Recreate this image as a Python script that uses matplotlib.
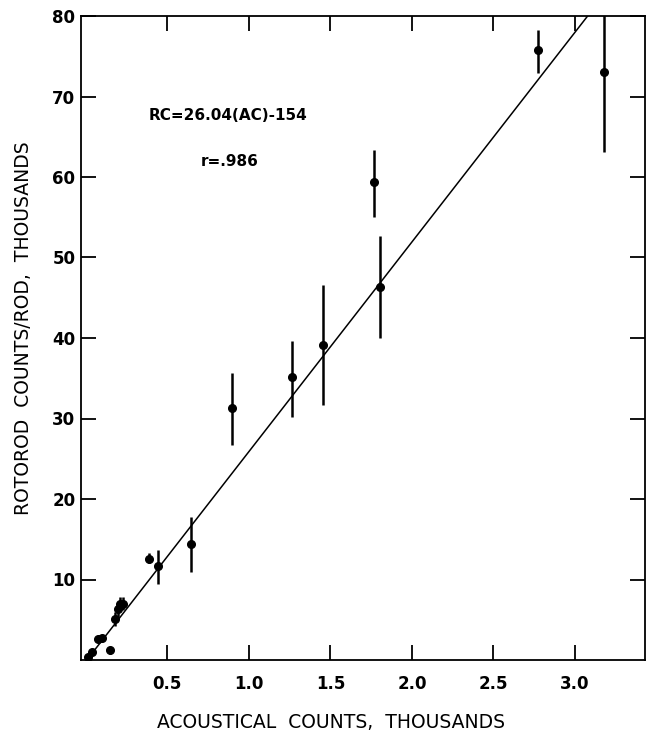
import numpy as np
import matplotlib
matplotlib.use('Agg')
import matplotlib.pyplot as plt

# acoustical counts (thousands) vs rotorod counts/rod (thousands), with error bars
ac      = [0.01, 0.04, 0.075, 0.10, 0.145, 0.18, 0.195, 0.21, 0.23,
           0.388, 0.444, 0.644, 0.894, 1.262, 1.456, 1.767, 1.806, 2.773, 3.178]
rc      = [0.4, 1.0, 2.6, 2.7, 1.2, 5.1, 6.3, 7.0, 7.0,
           12.6, 11.7, 14.4, 31.3, 35.1, 39.1, 59.4, 46.3, 75.8, 73.0]
rc_low  = [0.4, 0.8, 2.3, 2.4, 0.8, 4.2, 5.4, 6.2, 6.2,
           12.0, 9.5, 10.9, 26.7, 30.2, 31.7, 55.0, 40.0, 72.9, 63.1]
rc_high = [0.4, 1.2, 2.9, 3.0, 1.6, 6.0, 7.2, 7.8, 7.8,
           13.3, 13.7, 17.8, 35.7, 39.6, 46.6, 63.3, 52.7, 78.3, 82.0]

SLOPE, ICPT = 26.04, -0.154   # RC = 26.04(AC) - 154, in thousands

x_ticks = [0.5, 1.0, 1.5, 2.0, 2.5, 3.0]
y_ticks = [10, 20, 30, 40, 50, 60, 70, 80]

plt.rcParams['font.family'] = 'DejaVu Sans'

fig = plt.figure(figsize=(6.46, 7.42), dpi=100)
ax = fig.add_axes([81 / 646, 1 - 660 / 742, 564 / 646, 644 / 742])

ac = np.array(ac)
rc = np.array(rc)
yerr = [rc - np.array(rc_low), np.array(rc_high) - rc]
ax.errorbar(ac, rc, yerr=yerr, fmt='o', ms=5.5, color='k', ecolor='k',
            elinewidth=1.8, capsize=0, zorder=4)

xl = np.array([-ICPT / SLOPE, 3.2])
ax.plot(xl, SLOPE * xl + ICPT, c='k', lw=1.1, zorder=3)

ax.set_xlim(-0.03, 3.43)
ax.set_ylim(0, 80)
ax.set_xticks(x_ticks)
ax.set_xticklabels([f'{t:.1f}' for t in x_ticks])
ax.set_yticks(y_ticks)
ax.set_yticklabels([str(t) for t in y_ticks])
ax.tick_params(direction='in', length=11, width=1.3, top=True, right=True,
               labelsize=12)
ax.tick_params(axis='x', pad=11)
ax.tick_params(axis='y', pad=4)
for lab in ax.get_xticklabels() + ax.get_yticklabels():
    lab.set_fontweight('bold')
for s in ax.spines.values():
    s.set_linewidth(1.3)

ax.text(0.871, 67.6, 'RC=26.04(AC)-154', ha='center', va='center',
        fontsize=11, fontweight='bold')
ax.text(0.883, 61.9, 'r=.986', ha='center', va='center',
        fontsize=11, fontweight='bold')

fig.text(331 / 646, 1 - 722 / 742, 'ACOUSTICAL  COUNTS,  THOUSANDS',
         ha='center', va='center', fontsize=13.5)
fig.text(24 / 646, 1 - 328 / 742, 'ROTOROD  COUNTS/ROD,  THOUSANDS',
         ha='center', va='center', rotation=90, fontsize=13.5)

fig.savefig('out.png', dpi=100)
